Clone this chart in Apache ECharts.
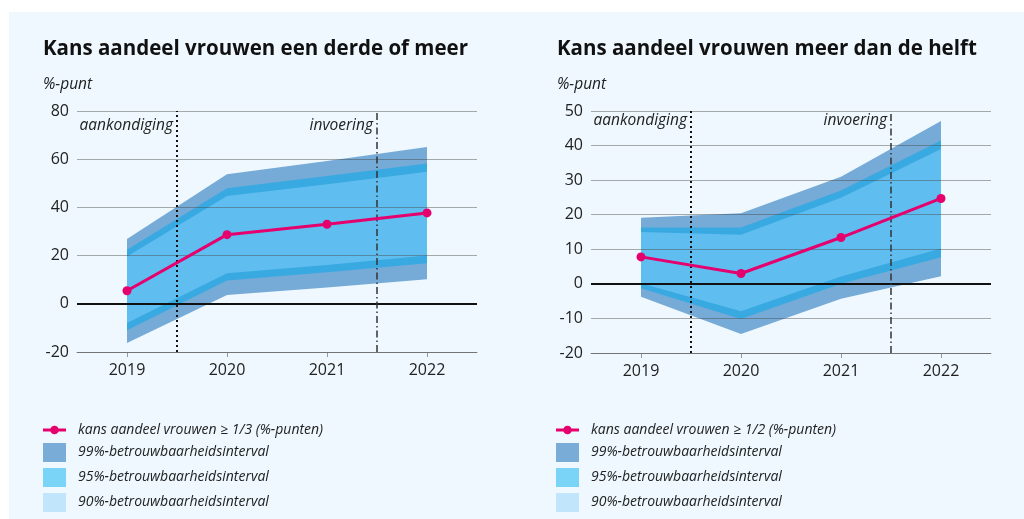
<!DOCTYPE html>
<html lang="nl">

<head>
    <meta charset="UTF-8">
    <title>Kans aandeel vrouwen</title>
    <style>
        html, body { margin: 0; padding: 0; background: #fff; }
        #main { width: 1024px; height: 519px; }
    </style>
</head>

<body>
    <div id="main"></div>
    <script src="https://cdn.jsdelivr.net/npm/echarts@6/dist/echarts.min.js"></script>
    <script>
        // jaren
        var years = [2019, 2020, 2021, 2022];

        // links: kans aandeel vrouwen >= 1/3
        var kans13 = [5.4, 28.7, 33.0, 37.7];
        var lo99_13 = [-16.3, 3.7, 6.8, 10.2];
        var lo95_13 = [-11.0, 9.7, 13.1, 16.8];
        var lo90_13 = [-8.0, 12.7, 16.1, 20.0];
        var hi90_13 = [19.6, 44.7, 49.6, 54.8];
        var hi95_13 = [22.4, 47.9, 53.0, 58.2];
        var hi99_13 = [26.9, 53.8, 59.3, 65.1];

        // rechts: kans aandeel vrouwen >= 1/2
        var kans12 = [7.8, 3.0, 13.4, 24.7];
        var lo99_12 = [-3.7, -14.5, -4.3, 2.2];
        var lo95_12 = [-1.3, -10.2, 0.0, 7.7];
        var lo90_12 = [0.2, -7.9, 2.1, 10.2];
        var hi90_12 = [15.0, 14.2, 24.9, 39.0];
        var hi95_12 = [16.3, 16.3, 27.0, 41.5];
        var hi99_12 = [19.1, 20.4, 31.0, 47.1];

        // y-as ticks
        var yTicks13 = [-20, 0, 20, 40, 60, 80];
        var yTicks12 = [-20, -10, 0, 10, 20, 30, 40, 50];

        var names = {
            line13: 'kans aandeel vrouwen ≥ 1/3 (%-punten)',
            line12: 'kans aandeel vrouwen ≥ 1/2 (%-punten)',
            b99: '99%-betrouwbaarheidsinterval',
            b95: '95%-betrouwbaarheidsinterval',
            b90: '90%-betrouwbaarheidsinterval'
        };

        var fontFam = '"Open Sans", "Noto Sans", sans-serif';
        var pink = '#e5006e';
        var c99 = '#76aad7', c95 = '#39a9e1', c90 = '#5fbdf0';

        function pairs(vals) {
            return years.map(function (y, i) { return [y, vals[i]]; });
        }

        // band als polygoon: bovenrand heen, onderrand terug
        function band(idx, lo, hi, color, name) {
            return {
                type: 'custom', name: name, xAxisIndex: idx, yAxisIndex: idx,
                silent: true, z: 2,
                itemStyle: { color: color },
                data: years.map(function (y, i) { return [y, lo[i], hi[i]]; }),
                encode: { x: 0, y: [1, 2] },
                renderItem: function (params, api) {
                    if (params.dataIndexInside !== 0) return;
                    var top = [], bot = [];
                    for (var j = 0; j < years.length; j++) {
                        var x = api.value(0, j);
                        top.push(api.coord([x, api.value(2, j)]));
                        bot.unshift(api.coord([x, api.value(1, j)]));
                    }
                    return {
                        type: 'polygon',
                        shape: { points: top.concat(bot) },
                        style: { fill: color }
                    };
                }
            };
        }

        function mainLine(idx, vals, name, yMax, labelOff) {
            return {
                type: 'line', name: name, xAxisIndex: idx, yAxisIndex: idx,
                data: pairs(vals), symbol: 'circle', symbolSize: 9,
                lineStyle: { color: pink, width: 3 },
                itemStyle: { color: pink },
                z: 10,
                markLine: {
                    silent: true, symbol: 'none', animation: false,
                    label: { show: false },
                    data: [
                        { yAxis: 0, lineStyle: { color: '#111', width: 2, type: 'solid' } },
                        { xAxis: 2019.5, lineStyle: { color: '#111', width: 2, type: [2, 3] } },
                        { xAxis: 2021.5, lineStyle: { color: '#333', width: 1.5, type: [7, 3, 1.5, 3] } }
                    ]
                },
                markPoint: {
                    silent: true, symbol: 'rect', symbolSize: 0, animation: false,
                    label: {
                        show: true, position: 'left', distance: 4, offset: [0, labelOff],
                        fontFamily: fontFam, fontStyle: 'italic', fontSize: 15.5, color: '#222',
                        formatter: function (p) { return p.name; }
                    },
                    data: [
                        { name: 'aankondiging', coord: [2019.5, yMax] },
                        { name: 'invoering', coord: [2021.5, yMax] }
                    ]
                }
            };
        }

        function xAxis(idx) {
            return {
                type: 'value', gridIndex: idx, min: 2018.5, max: 2022.5,
                splitLine: { show: false },
                axisLine: { show: true, onZero: false, lineStyle: { color: '#999' } },
                axisTick: { show: true, customValues: years, length: 5, lineStyle: { color: '#999' } },
                axisLabel: {
                    customValues: years, color: '#222', fontSize: 16, fontFamily: fontFam, margin: 10,
                    formatter: function (v) { return String(v); }
                }
            };
        }

        function yAxis(idx, ticks) {
            return {
                type: 'value', gridIndex: idx, min: ticks[0], max: ticks[ticks.length - 1],
                interval: ticks[1] - ticks[0], z: 3,
                axisLine: { show: false }, axisTick: { show: false },
                axisLabel: { color: '#222', fontSize: 16, fontFamily: fontFam, margin: 8 },
                splitLine: { lineStyle: { color: 'rgba(70,70,70,0.45)', width: 1 } }
            };
        }

        function legend(left, lineName) {
            return {
                orient: 'vertical', left: left, top: 423, height: 96, padding: 0, itemGap: 6,
                itemWidth: 23, itemHeight: 19, selectedMode: false,
                textStyle: { fontFamily: fontFam, fontStyle: 'italic', fontSize: 14, color: '#222', padding: [0, 0, 0, 7] },
                data: [
                    { name: lineName, icon: 'path://M0,8h24v3h-24zM12,5a4.5,4.5,0,1,1,0,9a4.5,4.5,0,1,1,0,-9z', itemStyle: { color: pink } },
                    { name: names.b99, icon: 'rect', itemStyle: { color: '#7aacd8' } },
                    { name: names.b95, icon: 'rect', itemStyle: { color: '#79d4f7' } },
                    { name: names.b90, icon: 'rect', itemStyle: { color: '#c1e5fb' } }
                ]
            };
        }

        var series = [
            band(0, lo99_13, hi99_13, c99, names.b99),
            band(0, lo95_13, hi95_13, c95, names.b95),
            band(0, lo90_13, hi90_13, c90, names.b90),
            mainLine(0, kans13, names.line13, 80, 15),
            band(1, lo99_12, hi99_12, c99, names.b99),
            band(1, lo95_12, hi95_12, c95, names.b95),
            band(1, lo90_12, hi90_12, c90, names.b90),
            mainLine(1, kans12, names.line12, 50, 10)
        ];

        var myChart = echarts.init(document.getElementById('main'));
        var option = {
            animation: false,
            backgroundColor: '#fff',
            graphic: [{
                type: 'rect', left: 9, top: 12, z: -10,
                shape: { width: 1015, height: 507 },
                style: { fill: '#eef8fe' }
            }],
            title: [
                { text: 'Kans aandeel vrouwen een derde of meer', left: 38, top: 34,
                  textStyle: { fontFamily: fontFam, fontWeight: 'bold', fontSize: 20.5, color: '#111' } },
                { text: '%-punt', left: 38, top: 72,
                  textStyle: { fontFamily: fontFam, fontStyle: 'italic', fontWeight: 'normal', fontSize: 15.5, color: '#222' } },
                { text: 'Kans aandeel vrouwen meer dan de helft', left: 552, top: 34,
                  textStyle: { fontFamily: fontFam, fontWeight: 'bold', fontSize: 20.5, color: '#111' } },
                { text: '%-punt', left: 552, top: 72,
                  textStyle: { fontFamily: fontFam, fontStyle: 'italic', fontWeight: 'normal', fontSize: 15.5, color: '#222' } }
            ],
            grid: [
                { left: 77, top: 111, width: 400, height: 241 },
                { left: 591, top: 111, width: 400, height: 242 }
            ],
            xAxis: [xAxis(0), xAxis(1)],
            yAxis: [yAxis(0, yTicks13), yAxis(1, yTicks12)],
            legend: [legend(43, names.line13), legend(556, names.line12)],
            series: series
        };
        myChart.setOption(option);
    </script>
</body>

</html>
